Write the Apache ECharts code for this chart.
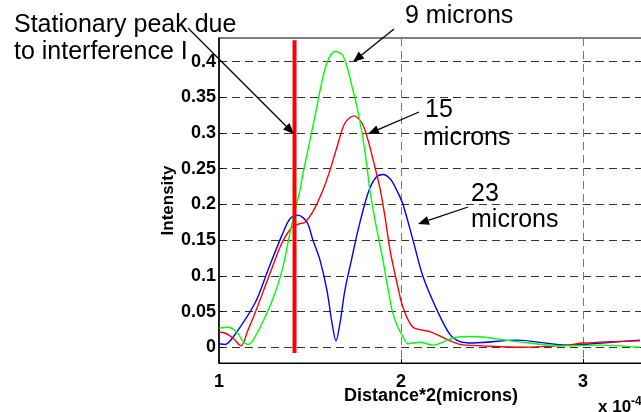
<!DOCTYPE html>
<html>
<head>
<meta charset="utf-8">
<script src="https://cdn.jsdelivr.net/npm/echarts@6/dist/echarts.min.js"></script>
<style>
  html, body { margin: 0; padding: 0; background: #fff; }
  #chart { width: 641px; height: 412px; }
</style>
</head>
<body>
<div id="chart"></div>
<script>
// Intensity profiles along the doubled distance (x in units of 1e-4 microns)
const xTicks = [1, 2, 3];
const yTicks = [0, 0.05, 0.1, 0.15, 0.2, 0.25, 0.3, 0.35, 0.4];
const yTickLabels = ['0', '0.05', '0.1', '0.15', '0.2', '0.25', '0.3', '0.35', '0.4'];

// 23 micron profile
const x23 = [1.0, 1.033, 1.077, 1.198, 1.269, 1.346, 1.390, 1.434, 1.484, 1.516, 1.555, 1.593, 1.621, 1.643, 1.665, 1.692, 1.731, 1.764, 1.819, 1.863, 1.901, 1.940, 1.967, 2.011, 2.066, 2.121, 2.198, 2.269, 2.324, 2.396, 2.637, 2.912, 3.0, 3.313];
const y23 = [0.005, 0.004, 0.014, 0.062, 0.108, 0.157, 0.180, 0.185, 0.175, 0.150, 0.122, 0.080, 0.034, 0.009, 0.034, 0.080, 0.126, 0.164, 0.216, 0.238, 0.242, 0.236, 0.225, 0.200, 0.150, 0.099, 0.052, 0.018, 0.008, 0.006, 0.010, 0.003, 0.004, 0.010];

// 15 micron profile
const x15 = [1.0, 1.033, 1.077, 1.121, 1.159, 1.198, 1.253, 1.297, 1.346, 1.401, 1.445, 1.473, 1.516, 1.571, 1.610, 1.648, 1.692, 1.742, 1.786, 1.819, 1.857, 1.885, 1.912, 1.940, 1.978, 2.011, 2.066, 2.159, 2.253, 2.324, 2.451, 2.670, 2.912, 3.0, 3.313];
const y15 = [0.021, 0.020, 0.013, 0.002, 0.024, 0.048, 0.085, 0.115, 0.146, 0.168, 0.173, 0.175, 0.190, 0.220, 0.248, 0.280, 0.314, 0.324, 0.314, 0.290, 0.252, 0.222, 0.183, 0.136, 0.090, 0.056, 0.028, 0.022, 0.011, 0.004, 0.002, 0.000, 0.003, 0.006, 0.009];

// 9 micron profile
const x9 = [1.0, 1.049, 1.099, 1.132, 1.159, 1.187, 1.253, 1.308, 1.352, 1.390, 1.418, 1.445, 1.462, 1.500, 1.538, 1.571, 1.599, 1.637, 1.676, 1.703, 1.731, 1.758, 1.786, 1.813, 1.830, 1.868, 1.901, 1.923, 1.951, 1.978, 2.011, 2.038, 2.104, 2.176, 2.286, 2.396, 2.637, 2.874, 3.093, 3.313];
const y9 = [0.027, 0.028, 0.021, 0.008, 0.004, 0.010, 0.042, 0.076, 0.113, 0.160, 0.192, 0.220, 0.244, 0.290, 0.337, 0.378, 0.402, 0.414, 0.410, 0.393, 0.365, 0.337, 0.300, 0.253, 0.218, 0.164, 0.122, 0.090, 0.052, 0.031, 0.015, 0.005, 0.007, 0.003, 0.013, 0.015, 0.008, 0.002, 0.003, 0.000];

// Stationary peak position and the span of its marker
const peakX = [1.415, 1.415];
const peakY = [-0.008, 0.43];

const pairs = (xs, ys) => xs.map((x, i) => [x, ys[i]]);

const FONT = '"Liberation Sans", Arial, sans-serif';
const chart = echarts.init(document.getElementById('chart'), null, { renderer: 'canvas' });

function curve(name, color, xs, ys) {
  return {
    name, type: 'line', data: pairs(xs, ys),
    smooth: 0.3, showSymbol: false, symbol: 'none',
    lineStyle: { color, width: 1.4 }, animation: false
  };
}

// Arrow helper for the annotation callouts (pixel space)
function arrow(x1, y1, x2, y2) {
  const ang = Math.atan2(y2 - y1, x2 - x1);
  const L = 11, W = 4.5;
  const bx = x2 - L * Math.cos(ang), by = y2 - L * Math.sin(ang);
  const px = -Math.sin(ang) * W, py = Math.cos(ang) * W;
  return [
    { type: 'line', shape: { x1, y1, x2: bx, y2: by }, style: { stroke: '#000', lineWidth: 1.3 }, z: 10 },
    { type: 'polygon', shape: { points: [[x2, y2], [bx + px, by + py], [bx - px, by - py]] }, style: { fill: '#000' }, z: 10 }
  ];
}

function label(text, x, y, size) {
  return {
    type: 'text', x, y, z: 10,
    style: { text, fill: '#000', font: `${size}px ${FONT}`, textVerticalAlign: 'middle', textAlign: 'left' }
  };
}

const option = {
  animation: false,
  backgroundColor: '#fff',
  grid: {
    left: 219, top: 38, width: 424, bottom: 49,
    outerBoundsMode: 'none', containLabel: false,
    show: true, borderColor: '#000', borderWidth: 1, backgroundColor: 'transparent'
  },
  xAxis: {
    type: 'value', min: 1, max: 3.33, interval: 1,
    name: 'Distance*2(microns)', nameLocation: 'middle', nameGap: 24, nameMoveOverlap: false,
    nameTextStyle: { fontFamily: FONT, fontWeight: 'bold', fontSize: 18, color: '#000' },
    axisLine: { show: true, onZero: false, lineStyle: { color: '#000', width: 1 } },
    axisTick: { show: true, inside: true, length: 4, lineStyle: { color: '#000' } },
    axisLabel: {
      fontFamily: FONT, fontWeight: 'bold', fontSize: 18, color: '#000', margin: 10,
      showMaxLabel: false,
      formatter: v => (xTicks.indexOf(v) >= 0 ? String(v) : '')
    },
    splitLine: { show: true, lineStyle: { color: '#777', type: [8, 5], width: 1 } }
  },
  yAxis: {
    type: 'value', min: -0.022, max: 0.433,
    name: 'Intensity', nameLocation: 'middle', nameGap: 42, nameRotate: 90, nameMoveOverlap: false,
    nameTextStyle: { fontFamily: FONT, fontWeight: 'bold', fontSize: 17, color: '#000' },
    axisLine: { show: true, lineStyle: { color: '#000', width: 1.5 } },
    axisTick: { show: true, inside: true, length: 4, customValues: yTicks, lineStyle: { color: '#000' } },
    axisLabel: {
      customValues: yTicks,
      fontFamily: FONT, fontWeight: 'bold', fontSize: 18, color: '#000', margin: 3,
      formatter: v => {
        const i = yTicks.findIndex(t => Math.abs(t - v) < 1e-9);
        return i >= 0 ? yTickLabels[i] : '';
      }
    },
    splitLine: { show: true, lineStyle: { color: '#333', type: [8, 5], width: 1 } }
  },
  series: [
    curve('23 microns', '#0000ff', x23, y23),
    curve('15 microns', '#ff0000', x15, y15),
    curve('9 microns', '#00ff00', x9, y9),
    {
      name: 'Stationary peak', type: 'line', data: pairs(peakX, peakY),
      showSymbol: false, symbol: 'none', z: 5,
      lineStyle: { color: '#ff0000', width: 4 }, animation: false
    }
  ],
  graphic: [
    label('Stationary peak due', 14, 25, 25),
    label('to interference I', 14, 52, 25),
    label('9 microns', 405, 16, 25),
    label('15', 425, 110, 25),
    label('microns', 423, 138, 25),
    label('23', 471, 194, 25),
    label('microns', 471, 220, 25),
    ...arrow(188, 28, 294, 134),
    ...arrow(394, 29, 353, 62),
    ...arrow(419, 112, 368, 134),
    ...arrow(468, 207, 418, 224),
    {
      type: 'text', x: 598, y: 407, z: 10,
      style: {
        text: '{b|x 10}{s|-4}', textVerticalAlign: 'middle',
        rich: {
          b: { font: `bold 17px ${FONT}`, fill: '#000' },
          s: { font: `bold 12px ${FONT}`, fill: '#000', verticalAlign: 'top', padding: [0, 0, 10, 0] }
        }
      }
    }
  ]
};

chart.setOption(option);
</script>
</body>
</html>
